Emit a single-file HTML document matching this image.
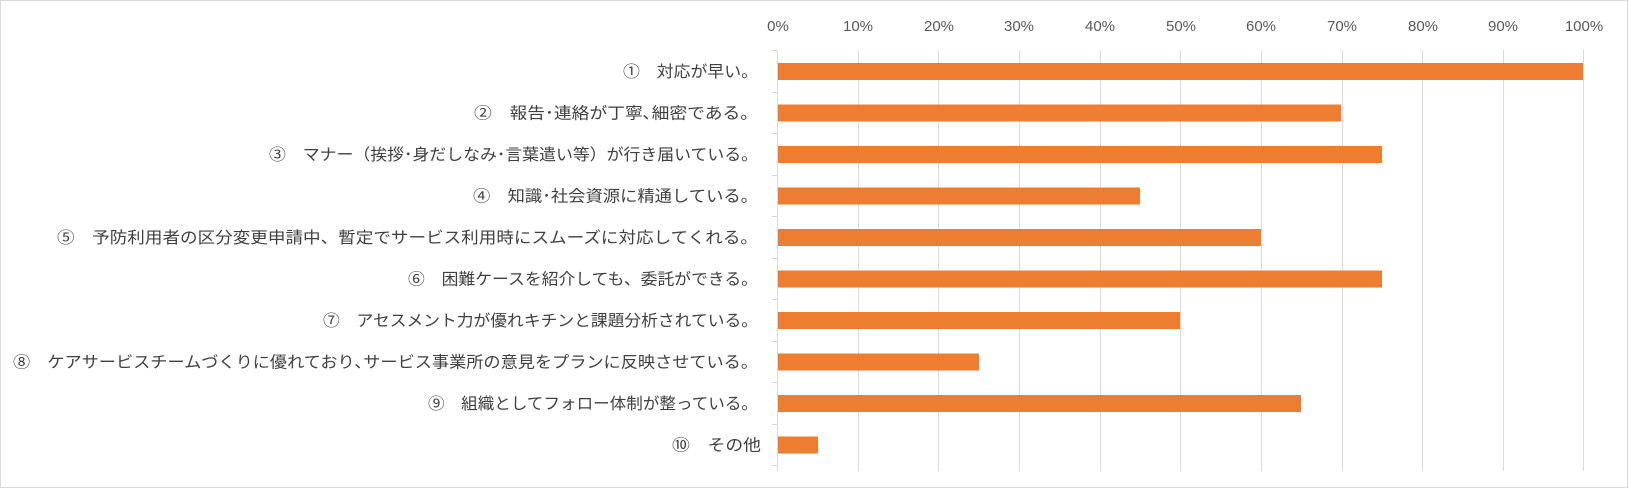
<!DOCTYPE html>
<html><head><meta charset="utf-8"><style>
html,body{margin:0;padding:0;background:#fff;}
svg{display:block;}
</style></head><body>
<svg width="1629" height="489" xmlns="http://www.w3.org/2000/svg">
<rect x="0.5" y="0.5" width="1627" height="487" fill="#fff" stroke="#d9d9d9"/>
<g stroke="#d9d9d9" stroke-width="1">
<line x1="777.5" y1="50" x2="777.5" y2="471"/>
<line x1="858.5" y1="50" x2="858.5" y2="471"/>
<line x1="938.5" y1="50" x2="938.5" y2="471"/>
<line x1="1019.5" y1="50" x2="1019.5" y2="471"/>
<line x1="1100.5" y1="50" x2="1100.5" y2="471"/>
<line x1="1180.5" y1="50" x2="1180.5" y2="471"/>
<line x1="1261.5" y1="50" x2="1261.5" y2="471"/>
<line x1="1342.5" y1="50" x2="1342.5" y2="471"/>
<line x1="1422.5" y1="50" x2="1422.5" y2="471"/>
<line x1="1503.5" y1="50" x2="1503.5" y2="471"/>
<line x1="1583.5" y1="50" x2="1583.5" y2="471"/>
<line x1="772" y1="50.5" x2="777" y2="50.5"/>
<line x1="772" y1="92.5" x2="777" y2="92.5"/>
<line x1="772" y1="133.5" x2="777" y2="133.5"/>
<line x1="772" y1="175.5" x2="777" y2="175.5"/>
<line x1="772" y1="216.5" x2="777" y2="216.5"/>
<line x1="772" y1="258.5" x2="777" y2="258.5"/>
<line x1="772" y1="299.5" x2="777" y2="299.5"/>
<line x1="772" y1="341.5" x2="777" y2="341.5"/>
<line x1="772" y1="382.5" x2="777" y2="382.5"/>
<line x1="772" y1="424.5" x2="777" y2="424.5"/>
<line x1="772" y1="465.5" x2="777" y2="465.5"/>
</g>
<g font-family="Liberation Sans, sans-serif" font-size="15" fill="#595959" text-anchor="middle">
<text x="778" y="31">0%</text><text x="858" y="31">10%</text><text x="939" y="31">20%</text><text x="1019" y="31">30%</text><text x="1100" y="31">40%</text><text x="1181" y="31">50%</text><text x="1261" y="31">60%</text><text x="1342" y="31">70%</text><text x="1423" y="31">80%</text><text x="1503" y="31">90%</text><text x="1584" y="31">100%</text>
</g>
<g fill="#ed7d31">
<rect x="778" y="63" width="805" height="17"/>
<rect x="778" y="104.5" width="563" height="17"/>
<rect x="778" y="146" width="604" height="17"/>
<rect x="778" y="187.5" width="362" height="17"/>
<rect x="778" y="229" width="483" height="17"/>
<rect x="778" y="270.5" width="604" height="17"/>
<rect x="778" y="312" width="402" height="17"/>
<rect x="778" y="353.5" width="201" height="17"/>
<rect x="778" y="395" width="523" height="17"/>
<rect x="778" y="436.5" width="40" height="17"/>
</g>
<g font-family="Liberation Sans, 'Noto Sans CJK JP', sans-serif" font-size="16" fill="#404040" text-anchor="end" lengthAdjust="spacingAndGlyphs">
<text x="758" y="77" textLength="135" lengthAdjust="spacingAndGlyphs">①　対応が早い。</text>
<text x="758" y="118.5" textLength="284" lengthAdjust="spacingAndGlyphs">②　報告･連絡が丁寧､細密である。</text>
<text x="758" y="160" textLength="489" lengthAdjust="spacingAndGlyphs">③　マナー（挨拶･身だしなみ･言葉遣い等）が行き届いている。</text>
<text x="758" y="201.5" textLength="285" lengthAdjust="spacingAndGlyphs">④　知識･社会資源に精通している。</text>
<text x="758" y="243" textLength="701" lengthAdjust="spacingAndGlyphs">⑤　予防利用者の区分変更申請中、暫定でサービス利用時にスムーズに対応してくれる。</text>
<text x="758" y="284.5" textLength="350" lengthAdjust="spacingAndGlyphs">⑥　困難ケースを紹介しても、委託ができる。</text>
<text x="758" y="326" textLength="435" lengthAdjust="spacingAndGlyphs">⑦　アセスメント力が優れキチンと課題分析されている。</text>
<text x="758" y="367.5" textLength="745" lengthAdjust="spacingAndGlyphs">⑧　ケアサービスチームづくりに優れており､サービス事業所の意見をプランに反映させている。</text>
<text x="758" y="409" textLength="330" lengthAdjust="spacingAndGlyphs">⑨　組織としてフォロー体制が整っている。</text>
<text x="761" y="450.5" textLength="89" lengthAdjust="spacingAndGlyphs">⑩　その他</text>
</g>
</svg>
</body></html>
